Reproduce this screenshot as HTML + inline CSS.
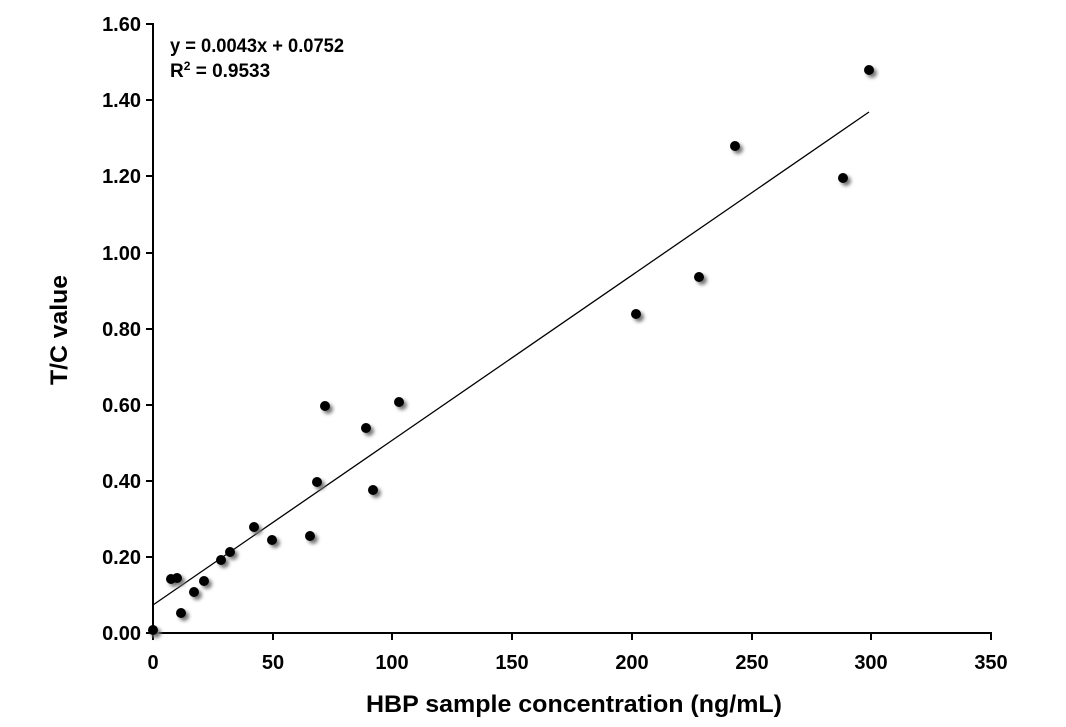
<!DOCTYPE html>
<html><head><style>body{margin:0;background:#fff}svg{display:block}text{font-family:"Liberation Sans",sans-serif;fill:#000}</style></head><body>
<svg width="1066" height="727" viewBox="0 0 1066 727">
<defs><filter id="sh" x="-1" y="-1" width="3" height="3"><feGaussianBlur stdDeviation="1.8"/></filter></defs>
<g stroke="#000" stroke-width="2" fill="none">
<line x1="153" y1="23" x2="153" y2="634"/>
<line x1="152" y1="633" x2="992" y2="633"/>
<line x1="146" y1="24" x2="153" y2="24"/><line x1="146" y1="100" x2="153" y2="100"/><line x1="146" y1="176" x2="153" y2="176"/><line x1="146" y1="253" x2="153" y2="253"/><line x1="146" y1="329" x2="153" y2="329"/><line x1="146" y1="405" x2="153" y2="405"/><line x1="146" y1="481" x2="153" y2="481"/><line x1="146" y1="557" x2="153" y2="557"/><line x1="146" y1="633" x2="153" y2="633"/>
<line x1="153" y1="633" x2="153" y2="640"/><line x1="273" y1="633" x2="273" y2="640"/><line x1="392" y1="633" x2="392" y2="640"/><line x1="512" y1="633" x2="512" y2="640"/><line x1="632" y1="633" x2="632" y2="640"/><line x1="752" y1="633" x2="752" y2="640"/><line x1="871" y1="633" x2="871" y2="640"/><line x1="991" y1="633" x2="991" y2="640"/>
</g>
<line x1="153" y1="605" x2="869" y2="112" stroke="#000" stroke-width="1.3"/>
<g font-size="20" font-weight="bold" text-anchor="end">
<text x="141" y="31">1.60</text><text x="141" y="107">1.40</text><text x="141" y="183">1.20</text><text x="141" y="260">1.00</text><text x="141" y="336">0.80</text><text x="141" y="412">0.60</text><text x="141" y="488">0.40</text><text x="141" y="564">0.20</text><text x="141" y="640">0.00</text>
</g>
<g font-size="20" font-weight="bold" text-anchor="middle">
<text x="153" y="669">0</text><text x="273" y="669">50</text><text x="392" y="669">100</text><text x="512" y="669">150</text><text x="632" y="669">200</text><text x="752" y="669">250</text><text x="871" y="669">300</text><text x="991" y="669">350</text>
</g>
<text x="574" y="712" font-size="24" font-weight="bold" text-anchor="middle" textLength="416" lengthAdjust="spacingAndGlyphs">HBP sample concentration (ng/mL)</text>
<text transform="translate(67,330) rotate(-90)" font-size="24" font-weight="bold" text-anchor="middle" textLength="110" lengthAdjust="spacingAndGlyphs">T/C value</text>
<text x="170" y="52" font-size="19" font-weight="bold" textLength="174" lengthAdjust="spacingAndGlyphs">y = 0.0043x + 0.0752</text>
<text x="170" y="77" font-size="19" font-weight="bold">R<tspan font-size="12" dy="-7">2</tspan><tspan dy="7"> = 0.9533</tspan></text>
<g fill="#777" filter="url(#sh)" transform="translate(3,3)">
<circle cx="153" cy="630" r="5"/><circle cx="171" cy="579" r="5"/><circle cx="177" cy="578" r="5"/><circle cx="181" cy="613" r="5"/><circle cx="194" cy="592" r="5"/><circle cx="204" cy="581" r="5"/><circle cx="221" cy="560" r="5"/><circle cx="230" cy="552" r="5"/><circle cx="254" cy="527" r="5"/><circle cx="272" cy="540" r="5"/><circle cx="310" cy="536" r="5"/><circle cx="317" cy="482" r="5"/><circle cx="325" cy="406" r="5"/><circle cx="366" cy="428" r="5"/><circle cx="373" cy="490" r="5"/><circle cx="399" cy="402" r="5"/><circle cx="636" cy="314" r="5"/><circle cx="699" cy="277" r="5"/><circle cx="735" cy="146" r="5"/><circle cx="843" cy="178" r="5"/><circle cx="869" cy="70" r="5"/>
</g>
<g fill="#000">
<circle cx="153" cy="630" r="5"/><circle cx="171" cy="579" r="5"/><circle cx="177" cy="578" r="5"/><circle cx="181" cy="613" r="5"/><circle cx="194" cy="592" r="5"/><circle cx="204" cy="581" r="5"/><circle cx="221" cy="560" r="5"/><circle cx="230" cy="552" r="5"/><circle cx="254" cy="527" r="5"/><circle cx="272" cy="540" r="5"/><circle cx="310" cy="536" r="5"/><circle cx="317" cy="482" r="5"/><circle cx="325" cy="406" r="5"/><circle cx="366" cy="428" r="5"/><circle cx="373" cy="490" r="5"/><circle cx="399" cy="402" r="5"/><circle cx="636" cy="314" r="5"/><circle cx="699" cy="277" r="5"/><circle cx="735" cy="146" r="5"/><circle cx="843" cy="178" r="5"/><circle cx="869" cy="70" r="5"/>
</g>
</svg>
</body></html>
